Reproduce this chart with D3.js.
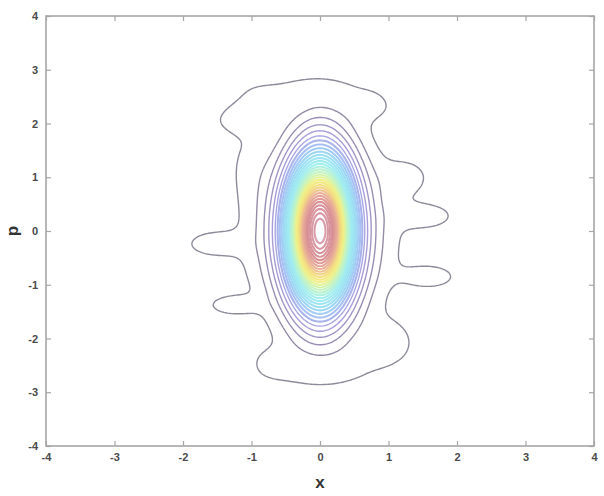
<!DOCTYPE html>
<html>
<head>
<meta charset="utf-8">
<script src="https://cdn.jsdelivr.net/npm/d3@7/dist/d3.min.js"></script>
<style>
  body { margin: 0; background: #fff; }
  text { font-family: "Liberation Sans", Arial, sans-serif; }
</style>
</head>
<body>
<svg id="chart" width="604" height="496"></svg>
<script>
// tick values on both axes
const xTicks = [-4, -3, -2, -1, 0, 1, 2, 3, 4];
const pTicks = [-4, -3, -2, -1, 0, 1, 2, 3, 4];

// the distribution, read off the picture as a sum of gaussian blobs
// (core peak, broad skirt, then the bumps that shape the outer contour)
const blobName = ['core', 'skirt', 'topL', 'topML', 'topM', 'topR', 'botL', 'botM', 'botMR', 'botR',
                  'leftSide', 'leftLobe', 'leftSpur', 'rightUp', 'rightMid', 'rightLow'];
const blobX    = [0,     0,     -1.2,  -0.95, -0.2,  0.8,   -0.75, 0.05,  0.6,   1.05,  -1.05, -1.6,  -1.3,  1.6,   1.3,   1.65];
const blobP    = [0,     0,     2.05,  2.38,  2.72,  2.35,  -2.45, -2.75, -2.4,  -2.1,  1.3,   -0.24, -1.38, 0.28,  1.0,   -0.85];
const blobSx   = [0.32,  0.72,  0.3,   0.32,  0.8,   0.3,   0.3,   0.7,   0.3,   0.3,   0.22,  0.3,   0.25,  0.3,   0.25,  0.3];
const blobSp   = [0.93,  1.2,   0.2,   0.25,  0.16,  0.25,  0.25,  0.16,  0.22,  0.35,  0.5,   0.18,  0.13,  0.18,  0.25,  0.18];
const blobAmp  = [1.0,   0.12,  0.036, 0.03,  0.022, 0.03,  0.03,  0.022, 0.016, 0.04,  0.022, 0.045, 0.048, 0.045, 0.035, 0.045];

// contour step and number of contour levels
const levelStep = 0.034;
const levelCount = 32;

const width = 604, height = 496;
const margin = {left: 46, right: 10, top: 16, bottom: 50};
const plotW = width - margin.left - margin.right;
const plotH = height - margin.top - margin.bottom;

const svg = d3.select('#chart');

const x = d3.scaleLinear().domain([-4, 4]).range([margin.left, margin.left + plotW]);
const y = d3.scaleLinear().domain([-4, 4]).range([margin.top + plotH, margin.top]);

// sample the field on a grid
const step = 0.025;
const n = Math.round(8 / step) + 1;
const values = new Float64Array(n * n);
for (let j = 0; j < n; j++) {
  const pv = 4 - j * step;
  for (let i = 0; i < n; i++) {
    const xv = -4 + i * step;
    let s = 0;
    for (let k = 0; k < blobX.length; k++) {
      const dx = (xv - blobX[k]) / blobSx[k];
      const dp = (pv - blobP[k]) / blobSp[k];
      s += blobAmp[k] * Math.exp(-0.5 * (dx * dx + dp * dp));
    }
    values[j * n + i] = s;
  }
}

const levels = d3.range(1, levelCount + 1).map(k => k * levelStep);
const fMax = d3.max(values);

// washed-out jet colours, as in the picture
const colour = d3.scaleLinear()
  .domain([0, 0.08, 0.16, 0.24, 0.32, 0.42, 0.52, 0.6, 0.68, 0.76, 0.86, 1])
  .range(['#8a8890', '#978cae', '#aa9ede', '#a8c0f4', '#9cdcf4', '#a0eef0',
          '#c4f4c0', '#f0f288', '#f4dc80', '#eab098', '#d88e94', '#d8a0b0'])
  .clamp(true);

const contours = d3.contours()
  .size([n, n])
  .thresholds(levels)(values);

// grid units -> screen
const toScreen = d3.geoTransform({
  point: function(gx, gy) {
    this.stream.point(x(-4 + (gx - 0.5) * step), y(4 - (gy - 0.5) * step));
  }
});
const path = d3.geoPath(toScreen);

const defs = svg.append('defs');
defs.append('clipPath').attr('id', 'plotClip')
  .append('rect')
  .attr('x', margin.left).attr('y', margin.top)
  .attr('width', plotW).attr('height', plotH);

defs.append('filter').attr('id', 'soft')
  .append('feGaussianBlur').attr('stdDeviation', 0.45);
defs.append('filter').attr('id', 'softer')
  .attr('x', '-20%').attr('y', '-20%').attr('width', '140%').attr('height', '140%')
  .append('feGaussianBlur').attr('stdDeviation', 0.65);

const plot = svg.append('g').attr('clip-path', 'url(#plotClip)');

// outer grey/purple lines stay crisp, the coloured core is dense and soft
const outer = contours.filter(d => d.value / fMax < 0.2);
const inner = contours.filter(d => d.value / fMax >= 0.2);

plot.append('g')
  .attr('filter', 'url(#soft)')
  .selectAll('path')
  .data(outer)
  .enter().append('path')
  .attr('d', path)
  .attr('fill', 'none')
  .attr('stroke', d => colour(d.value / fMax))
  .attr('stroke-width', 1.4);

plot.append('g')
  .attr('filter', 'url(#softer)')
  .selectAll('path')
  .data(inner)
  .enter().append('path')
  .attr('d', path)
  .attr('fill', 'none')
  .attr('stroke', d => colour(d.value / fMax))
  .attr('stroke-width', 2.1);

// frame and inward ticks on all four sides
const axisColour = '#a6a6a6';
svg.append('rect')
  .attr('x', margin.left).attr('y', margin.top)
  .attr('width', plotW).attr('height', plotH)
  .attr('fill', 'none')
  .attr('stroke', axisColour)
  .attr('stroke-width', 1.6);

const tickLen = 5;
const fmt = d => String(d);

function styleAxis(g) {
  g.select('.domain').remove();
  g.selectAll('.tick line').attr('stroke', axisColour).attr('stroke-width', 1.2);
  g.selectAll('.tick text')
    .attr('fill', '#4a4a4a')
    .style('font-size', '11px')
    .style('font-weight', 'bold');
}

svg.append('g')
  .attr('transform', `translate(0,${margin.top + plotH})`)
  .call(d3.axisBottom(x).tickValues(xTicks).tickFormat(fmt).tickSizeInner(-tickLen).tickSizeOuter(0).tickPadding(7))
  .call(styleAxis);

svg.append('g')
  .attr('transform', `translate(0,${margin.top})`)
  .call(d3.axisTop(x).tickValues(xTicks).tickFormat('').tickSizeInner(-tickLen).tickSizeOuter(0))
  .call(styleAxis);

svg.append('g')
  .attr('transform', `translate(${margin.left},0)`)
  .call(d3.axisLeft(y).tickValues(pTicks).tickFormat(fmt).tickSizeInner(-tickLen).tickSizeOuter(0).tickPadding(8))
  .call(styleAxis);

svg.append('g')
  .attr('transform', `translate(${margin.left + plotW},0)`)
  .call(d3.axisRight(y).tickValues(pTicks).tickFormat('').tickSizeInner(-tickLen).tickSizeOuter(0))
  .call(styleAxis);

// axis titles
svg.append('text')
  .attr('x', x(0)).attr('y', 488)
  .attr('text-anchor', 'middle')
  .attr('fill', '#333')
  .style('font-size', '17px')
  .style('font-weight', 'bold')
  .text('x');

svg.append('text')
  .attr('transform', `translate(18,${y(0)}) rotate(-90)`)
  .attr('text-anchor', 'middle')
  .attr('fill', '#333')
  .style('font-size', '17px')
  .style('font-weight', 'bold')
  .text('p');
</script>
</body>
</html>
